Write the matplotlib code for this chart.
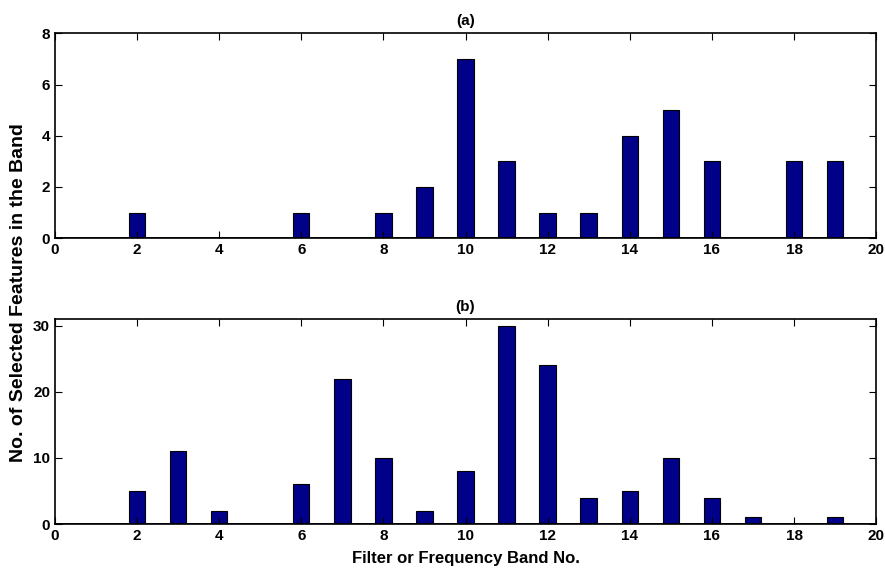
import numpy as np
import matplotlib.pyplot as plt

plt.rcParams['font.family'] = ['Liberation Sans Narrow', 'Liberation Sans', 'DejaVu Sans']
plt.rcParams['font.weight'] = 'bold'

# (a) features per band
bands_a = [2, 6, 8, 9, 10, 11, 12, 13, 14, 15, 16, 18, 19]
counts_a = [1, 1, 1, 2, 7, 3, 1, 1, 4, 5, 3, 3, 3]

# (b) features per band
bands_b = [2, 3, 4, 6, 7, 8, 9, 10, 11, 12, 13, 14, 15, 16, 17, 19]
counts_b = [5, 11, 2, 6, 22, 10, 2, 8, 30, 24, 4, 5, 10, 4, 1, 1]

bar_color = '#000088'

fig = plt.figure(figsize=(8.85, 5.74), dpi=100)
ax1 = fig.add_axes([0.062, 0.585, 0.928, 0.357])
ax2 = fig.add_axes([0.062, 0.087, 0.928, 0.357])

for ax, x, y, ttl, ylim, yt in [(ax1, bands_a, counts_a, '(a)', 8, [0, 2, 4, 6, 8]),
                                (ax2, bands_b, counts_b, '(b)', 31, [0, 10, 20, 30])]:
    ax.bar(x, y, width=0.4, color=bar_color, edgecolor='black', linewidth=0.8)
    ax.axhline(0, color='black', linewidth=2, zorder=3)
    ax.set_xlim(0, 20)
    ax.set_ylim(0, ylim)
    ax.set_xticks(np.arange(0, 21, 2))
    ax.set_yticks(yt)
    ax.tick_params(direction='in', top=True, right=True, length=5, labelsize=11, width=0.8)
    for sp in ax.spines.values():
        sp.set_linewidth(1.2)
    ax.set_title(ttl, fontsize=11, fontweight='bold', pad=6)

ax2.set_xlabel('Filter or Frequency Band No.', fontsize=12, fontweight='bold', labelpad=6)
fig.text(0.021, 0.491, 'No. of Selected Features in the Band', rotation=90,
         ha='center', va='center', fontsize=14, fontweight='bold')

plt.savefig('out.png', dpi=100)
